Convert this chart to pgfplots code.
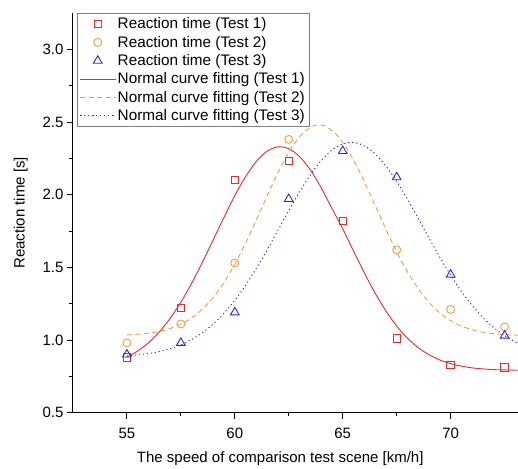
\documentclass[border=0pt]{standalone}
\usepackage{pgfplots}
\pgfplotsset{compat=1.18}
\usepackage{fontspec}
\setmainfont{Liberation Sans}
\definecolor{cred}{RGB}{222,45,45}
\definecolor{corange}{RGB}{238,155,70}
\definecolor{cblue}{RGB}{40,40,210}
\begin{document}
\begin{tikzpicture}[font=\fontsize{15bp}{18bp}\selectfont]
\begin{axis}[
  scale only axis, width=445bp, height=400bp,
  xmin=52.5, xmax=73.1, ymin=0.5, ymax=3.25,
  axis lines*=left, axis line style={line width=0.9bp},
  tick align=outside, major tick length=6bp, minor tick length=3.5bp,
  every tick/.style={black, line width=0.9bp},
  xtick={55,60,65,70}, minor x tick num=1,
  ytick={0.5,1.0,1.5,2.0,2.5,3.0}, minor y tick num=1,
  /pgf/number format/assume math mode=true,
  yticklabel style={/pgf/number format/fixed, /pgf/number format/fixed zerofill, /pgf/number format/precision=1},
  xticklabel style={yshift=-6bp},
  xlabel={The speed of comparison test scene [km/h]},
  ylabel={Reaction time [s]},
  xlabel style={xshift=-15bp, yshift=-6bp},
  ylabel style={yshift=8bp},
  legend style={at={(0.009,1)}, anchor=north west, draw=gray, line width=0.6bp, inner sep=2.5bp, font=\fontsize{15.3bp}{18bp}\selectfont, row sep=1.8bp},
  legend cell align=left,
  legend image code/.code={\draw[mark repeat=2,mark phase=2] plot coordinates {(0cm,0cm) (0.62cm,0cm) (1.24cm,0cm)};},
]
\addplot[only marks, mark=square, mark size=3.7bp, color=cred, mark options={line width=0.9bp}] coordinates {
(55,0.88) (57.5,1.22) (60,2.10) (62.5,2.23) (65,1.82) (67.5,1.01) (70,0.83) (72.5,0.81)};
\addlegendentry{Reaction time (Test 1)}
\addplot[only marks, mark=o, mark size=4bp, color=corange, mark options={line width=0.9bp}] coordinates {
(55,0.98) (57.5,1.11) (60,1.53) (62.5,2.38) (67.5,1.62) (70,1.21) (72.5,1.09)};
\addlegendentry{Reaction time (Test 2)}
\addplot[only marks, mark=triangle, mark size=5bp, color=cblue, mark options={line width=0.9bp}] coordinates {
(55,0.90) (57.5,0.98) (60,1.19) (62.5,1.97) (65,2.30) (67.5,2.12) (70,1.45) (72.5,1.03)};
\addlegendentry{Reaction time (Test 3)}
\addplot[smooth, no marks, color=cred, line width=0.9bp] coordinates {
(55,0.881) (55.5,0.924) (56,0.981) (56.5,1.055) (57,1.148) (57.5,1.260) (58,1.390) (58.5,1.535) (59,1.689) (59.5,1.844) (60,1.993) (60.5,2.124) (61,2.229) (61.5,2.299) (62,2.329) (62.5,2.316) (63,2.262) (63.5,2.170) (64,2.048) (64.5,1.905) (65,1.765) (65.5,1.612) (66,1.462) (66.5,1.322) (67,1.200) (67.5,1.096) (68,1.012) (68.5,0.947) (69,0.898) (69.5,0.862) (70,0.837) (70.5,0.820) (71,0.808) (71.5,0.801) (72,0.796) (72.5,0.794) (73,0.792) (73.1,0.792)};
\addlegendentry{Normal curve fitting (Test 1)}
\addplot[smooth, no marks, color=corange, line width=0.9bp, dash pattern=on 5bp off 3.5bp] coordinates {
(55,1.035) (55.15,1.036) (55.65,1.041) (56.15,1.050) (56.65,1.064) (57.15,1.087) (57.65,1.120) (58.15,1.168) (58.65,1.234) (59.15,1.321) (59.65,1.431) (60.15,1.563) (60.65,1.714) (61.15,1.877) (61.65,2.041) (62.15,2.196) (62.65,2.327) (63.15,2.423) (63.65,2.474) (63.9,2.480) (64.15,2.474) (64.65,2.423) (65.15,2.327) (65.65,2.196) (66.15,2.041) (66.65,1.877) (67.15,1.714) (67.65,1.563) (68.15,1.431) (68.65,1.321) (69.15,1.234) (69.65,1.168) (70.15,1.120) (70.65,1.087) (71.15,1.064) (71.65,1.050) (72.15,1.041) (72.65,1.036) (73.1,1.033)};
\addlegendentry{Normal curve fitting (Test 2)}
\addplot[smooth, no marks, color=cblue, line width=0.9bp, dash pattern=on 1.2bp off 2.8bp] coordinates {
(55,0.891) (55.5,0.897) (56,0.907) (56.5,0.920) (57,0.940) (57.5,0.967) (58,1.003) (58.5,1.050) (59,1.110) (59.5,1.184) (60,1.273) (60.5,1.377) (61,1.494) (61.5,1.621) (62,1.755) (62.5,1.890) (63,2.019) (63.5,2.136) (64,2.234) (64.5,2.307) (65,2.349) (65.5,2.359) (66,2.336) (66.5,2.281) (67,2.197) (67.5,2.091) (68,1.969) (68.5,1.836) (69,1.701) (69.5,1.569) (70,1.446) (70.5,1.334) (71,1.236) (71.5,1.153) (72,1.084) (72.5,1.030) (73,0.987) (73.1,0.980)};
\addlegendentry{Normal curve fitting (Test 3)}
\end{axis}
\path ([shift={(-73bp,-56bp)}]current axis.south west) rectangle ([shift={(0bp,13bp)}]current axis.north east);
\end{tikzpicture}
\end{document}
